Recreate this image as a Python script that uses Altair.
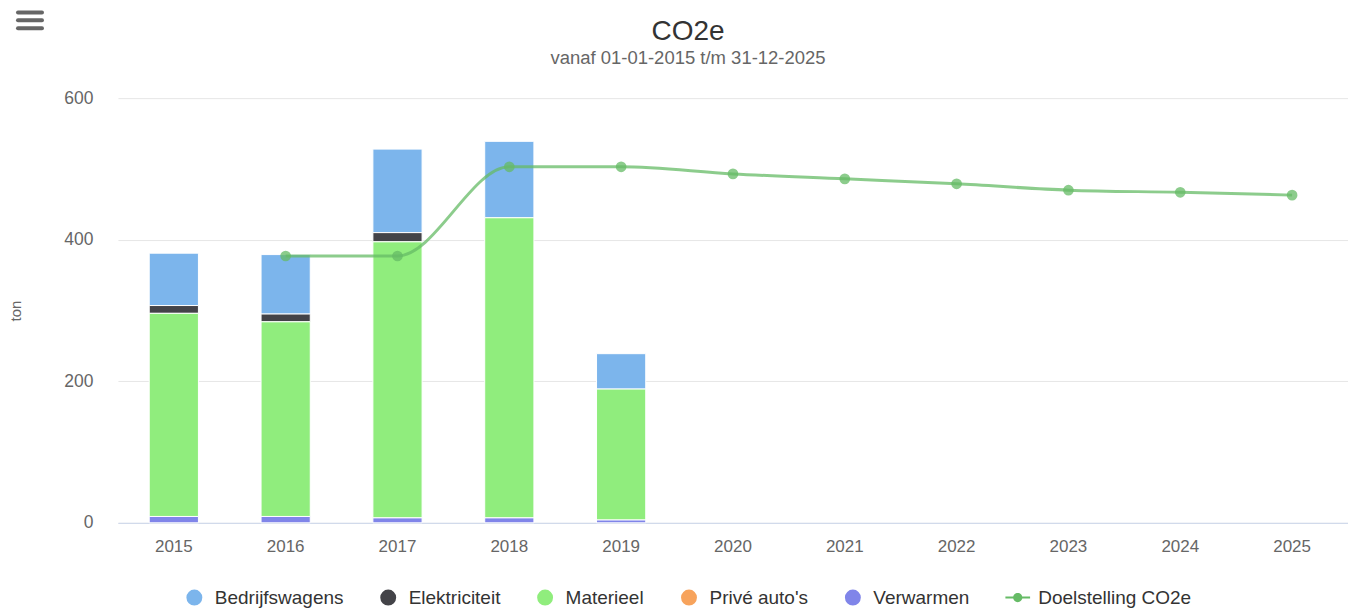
import altair as alt
import pandas as pd

years = [str(y) for y in range(2015, 2026)]
bar_years = ["2015", "2016", "2017", "2018", "2019"]
bedrijfswagens = [74, 84, 118, 108, 50]
elektriciteit = [11, 11, 13, 0, 0]
materieel = [287, 275, 390, 424, 185]
prive_autos = [0, 0, 0, 0, 0]
verwarmen = [9, 9, 7, 7, 4]

doel_years = ["2016", "2017", "2018", "2019", "2020", "2021", "2022", "2023", "2024", "2025"]
doelstelling = [377, 377, 503, 503, 493, 486, 479, 470, 467, 463]

series_names = ["Bedrijfswagens", "Elektriciteit", "Materieel", "Privé auto's", "Verwarmen", "Doelstelling CO2e"]
colors = ["#7cb5ec", "#434348", "#90ed7d", "#f7a35c", "#8085e9", "#66bb66"]
line_symbol = "M-1.55,-0.13H1.55V0.13H-1.55Z M-0.58,0A0.58,0.58,0,1,1,0.58,0A0.58,0.58,0,1,1,-0.58,0Z"
shapes = ["circle", "circle", "circle", "circle", "circle", line_symbol]

bar_series = [bedrijfswagens, elektriciteit, materieel, prive_autos, verwarmen]
rows = []
for i, vals in enumerate(bar_series):
    for yr, v in zip(bar_years, vals):
        if v > 0:
            rows.append({"jaar": yr, "serie": series_names[i], "waarde": v, "volgorde": -i})
bars_df = pd.DataFrame(rows)
line_df = pd.DataFrame({"jaar": doel_years, "waarde": doelstelling, "serie": "Doelstelling CO2e"})
legend_df = pd.DataFrame({"serie": series_names, "jaar": ["2015"] * len(series_names), "waarde": [0] * len(series_names)})

FONT = "Liberation Sans"

legend_props = dict(
    title=None, orient="none", legendX=67, legendY=490, direction="horizontal",
    symbolSize=254, labelFontSize=19, labelColor="#333333", labelFont=FONT,
    columnPadding=35, labelOffset=11, symbolOpacity=1, symbolStrokeWidth=0,
)

x_enc = alt.X(
    "jaar:N",
    scale=alt.Scale(domain=years, paddingInner=0.56, paddingOuter=0.28),
    axis=alt.Axis(title=None, labelAngle=0, domainColor="#ccd6eb", ticks=False,
                  labelFontSize=17, labelColor="#666666", labelPadding=16, grid=False,
                  labelFont=FONT),
)
y_scale = alt.Scale(domain=[0, 600])
color_enc = alt.Color("serie:N", scale=alt.Scale(domain=series_names, range=colors),
                      legend=alt.Legend(**legend_props))

bars = alt.Chart(bars_df).mark_bar(stroke="white", strokeWidth=1).encode(
    x=x_enc,
    y=alt.Y("waarde:Q", stack="zero", scale=y_scale,
            axis=alt.Axis(title="ton", values=[0, 200, 400, 600], domain=False, ticks=False,
                          gridColor="#e6e6e6", labelFontSize=17.5, labelColor="#666666",
                          labelPadding=25, labelFont=FONT, titleFont=FONT, titleFontSize=15,
                          titleFontWeight="normal", titleColor="#666666", titlePadding=40)),
    color=color_enc,
    order=alt.Order("volgorde:Q"),
)

legend_layer = alt.Chart(legend_df).mark_point(filled=True, opacity=0, size=1).encode(
    x=alt.X("jaar:N"),
    y=alt.Y("waarde:Q"),
    color=alt.Color("serie:N", legend=alt.Legend(**legend_props)),
    shape=alt.Shape("serie:N", scale=alt.Scale(domain=series_names, range=shapes),
                    legend=alt.Legend(**legend_props)),
)

line = alt.Chart(line_df).mark_line(interpolate="monotone", strokeWidth=3, opacity=0.75).encode(
    x=alt.X("jaar:N"),
    y=alt.Y("waarde:Q"),
    color=alt.Color("serie:N"),
)
points = alt.Chart(line_df).mark_circle(size=115, opacity=0.75).encode(
    x=alt.X("jaar:N"),
    y=alt.Y("waarde:Q"),
    color=alt.Color("serie:N"),
)

# menu (hamburger) icon, top-left
menu_df = pd.DataFrame({"k": [0]})
menu_bars = [
    alt.Chart(menu_df).mark_rule(color="#666666", strokeWidth=4, strokeCap="round").encode(
        x=alt.value(-100), x2=alt.value(-76), y=alt.value(yy)
    )
    for yy in (-85.7, -78, -70)
]

chart = alt.layer(bars, legend_layer, line, points, *menu_bars).properties(
    width=1231, height=425,
    title=alt.TitleParams("CO2e", subtitle="vanaf 01-01-2015 t/m 31-12-2025",
                          fontSize=28, font=FONT, fontWeight="normal", color="#333333",
                          subtitleFont=FONT, subtitleFontSize=18.5, subtitleColor="#666666",
                          subtitlePadding=3, anchor="middle", offset=-57, dx=-45),
    padding={"top": 2, "left": 0, "right": 0, "bottom": 0},
).configure_view(stroke=None).configure_axis(labelFont=FONT)

chart.save("out.html", embed_options={"renderer": "svg", "actions": False})
